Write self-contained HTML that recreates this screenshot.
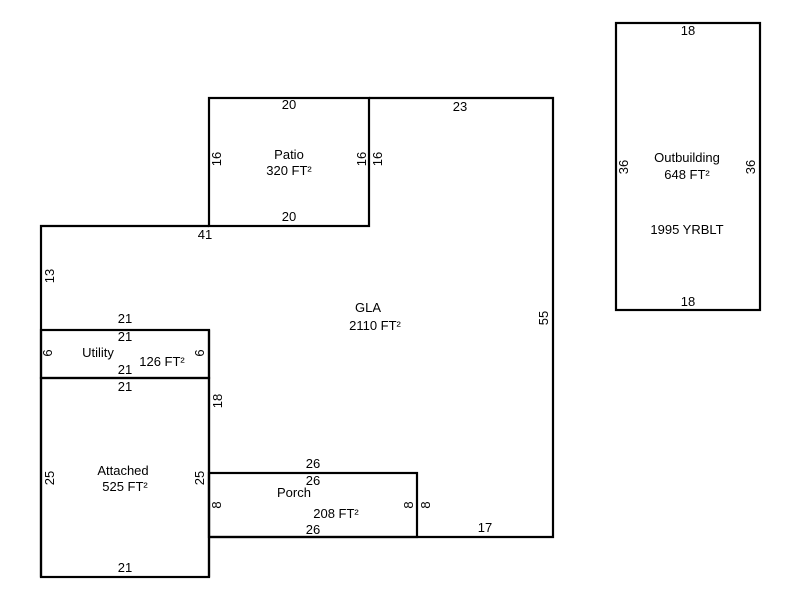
<!DOCTYPE html>
<html><head><style>html,body{margin:0;padding:0;background:#fff}svg{display:block}</style></head>
<body>
<svg width="800" height="600" xmlns="http://www.w3.org/2000/svg" font-family="Liberation Sans, Arial, sans-serif" font-size="13" fill="#000">
<g stroke="#000" stroke-width="2.2" fill="none">
<rect x="209" y="98" width="160" height="128"/>
<polyline points="369,98 553,98 553,537 209,537"/>
<polyline points="41,577 41,226 209,226"/>
<rect x="41" y="330" width="168" height="48"/>
<rect x="41" y="378" width="168" height="199"/>
<line x1="209" y1="330" x2="209" y2="577"/>
<rect x="209" y="473" width="208" height="64"/>
<rect x="616" y="23" width="144" height="287"/>
</g>
<g text-anchor="middle">
<text x="289" y="109">20</text>
<text x="289" y="159">Patio</text>
<text x="289" y="175">320 FT²</text>
<text x="289" y="221">20</text>
<text x="460" y="111">23</text>
<text x="205" y="239">41</text>
<text x="368" y="312">GLA</text>
<text x="375" y="330">2110 FT²</text>
<text x="125" y="323">21</text>
<text x="125" y="341">21</text>
<text x="98" y="357">Utility</text>
<text x="162" y="366">126 FT²</text>
<text x="125" y="374">21</text>
<text x="125" y="391">21</text>
<text x="123" y="475">Attached</text>
<text x="125" y="491">525 FT²</text>
<text x="125" y="572">21</text>
<text x="313" y="468">26</text>
<text x="313" y="485">26</text>
<text x="294" y="497">Porch</text>
<text x="336" y="518">208 FT²</text>
<text x="313" y="534">26</text>
<text x="485" y="532">17</text>
<text x="688" y="35">18</text>
<text x="687" y="162">Outbuilding</text>
<text x="687" y="179">648 FT²</text>
<text x="687" y="234">1995 YRBLT</text>
<text x="688" y="306">18</text>
</g>
<g text-anchor="middle">
<text transform="translate(221,159) rotate(-90)">16</text>
<text transform="translate(366,159) rotate(-90)">16</text>
<text transform="translate(382,159) rotate(-90)">16</text>
<text transform="translate(54,276) rotate(-90)">13</text>
<text transform="translate(548,318) rotate(-90)">55</text>
<text transform="translate(52,353) rotate(-90)">6</text>
<text transform="translate(204,353) rotate(-90)">6</text>
<text transform="translate(222,401) rotate(-90)">18</text>
<text transform="translate(54,478) rotate(-90)">25</text>
<text transform="translate(204,478) rotate(-90)">25</text>
<text transform="translate(221,505) rotate(-90)">8</text>
<text transform="translate(413,505) rotate(-90)">8</text>
<text transform="translate(430,505) rotate(-90)">8</text>
<text transform="translate(628,167) rotate(-90)">36</text>
<text transform="translate(755,167) rotate(-90)">36</text>
</g>
</svg>
</body></html>
